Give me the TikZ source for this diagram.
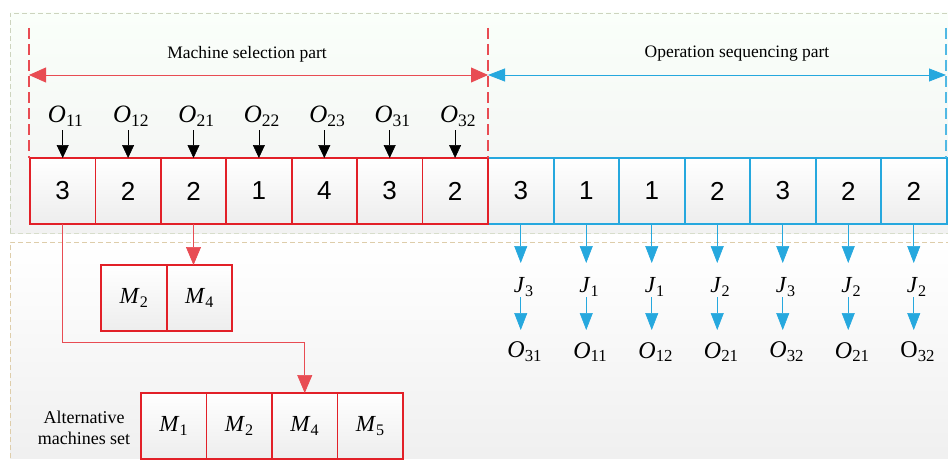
\documentclass[tikz,border=0pt]{standalone}
\usepackage{fontspec}
\setmainfont{Liberation Serif}
\newfontfamily\arialf{Liberation Sans}
\usetikzlibrary{arrows.meta,calc}
\definecolor{myred}{RGB}{226,32,40}
\definecolor{myblue}{RGB}{38,168,222}
\definecolor{pline}{RGB}{205,212,190}
\definecolor{tanline}{RGB}{222,205,170}
\begin{document}
\begin{tikzpicture}[x=1pt,y=-1pt,
  cellbase/.style={minimum width=65.5pt, minimum height=66pt, inner sep=0pt, outer sep=0pt,
     top color=white, bottom color=black!7, font=\arialf\fontsize{26}{26}\selectfont},
  rbox/.style={cellbase},
  bbox/.style={cellbase},
  mbox/.style={cellbase, font=\fontsize{23}{23}\selectfont},
  rframe/.style={draw=myred, line width=1.7pt},
  bframe/.style={draw=myblue, line width=2pt},
  olab/.style={font=\fontsize{25}{25}\selectfont, inner sep=1pt},
  jlab/.style={font=\fontsize{23}{23}\selectfont, inner sep=1pt},
  blab/.style={font=\fontsize{24}{24}\selectfont, inner sep=1pt},
  partlab/.style={font=\fontsize{17.5}{17.5}\selectfont},
  blk/.style={-{Triangle[width=12pt,length=13pt]}, line width=0.6pt, black},
  bluearr/.style={-{Triangle[width=13pt,length=17pt]}, line width=0.6pt, myblue},
  redarr/.style={-{Triangle[width=15pt,length=18pt]}, line width=0.8pt, myred!80},
  reddash/.style={myred!80, line width=1.2pt, dash pattern=on 11pt off 5pt},
  bluedash/.style={myblue!80, line width=1.8pt, dash pattern=on 11pt off 5pt},
]
\useasboundingbox (0,0) rectangle (948,460);
\fill[white] (0,0) rectangle (948,460);
% panels
\shade[top color=white, bottom color=black!6] (10,242) rectangle (958,458);
\draw[tanline, line width=0.8pt, dash pattern=on 5pt off 3pt] (10,458) -- (10,242) -- (958,242);
\shade[top color=white!98!green, bottom color=black!5] (10,13) rectangle (958,233);
\draw[pline, line width=0.8pt, dash pattern=on 5pt off 3pt] (10,233) -- (10,13) -- (958,13);
\draw[pline!80, line width=0.8pt, dash pattern=on 5pt off 3pt] (10,233) -- (958,233);

% boxes
\foreach \v [count=\i] in {3,2,2,1,4,3,2}
  \node[rbox] (r\i) at ({30+65.4*(\i-0.5)},191) {\v};
\foreach \v [count=\i] in {3,1,1,2,3,2,2}
  \node[bbox] (b\i) at ({488+65.5*(\i-0.5)},191) {\v};
\foreach \i in {1,...,7}{
  \draw[rframe] (r\i.north west) rectangle (r\i.south east);
  \draw[bframe] (b\i.north west) rectangle (b\i.south east);
}

% part markers
\coordinate (ml) at (29,28);
\coordinate (mr) at (488,28);
\coordinate (br) at (946,28);
\draw[reddash] (ml) -- (29,158);
\draw[reddash] (mr) -- (488,158);
\draw[bluedash] (br) -- (946,158);
\coordinate (al) at (29,75);
\coordinate (am) at (488,75);
\coordinate (ar) at (946,75);
\draw[redarr, {Triangle[width=15pt,length=17pt]}-{Triangle[width=15pt,length=17pt]}] (al) -- (am);
\draw[bluearr, line width=0.8pt, {Triangle[width=13pt,length=17pt]}-{Triangle[width=13pt,length=17pt]}] (am) -- (ar);
\node[partlab] (msp) at (247,54) {Machine selection part};
\node[partlab] (osp) at (737,54) {Operation sequencing part};

% operation labels
\foreach \s [count=\i] in {11,12,21,22,23,31,32}{
  \node[olab] (o\i) at ($(r\i.north)+(3,-42)$) {\textit{O}\textsubscript{\s}};
  \draw[blk] ($(r\i.north)+(0,-28)$) -- (r\i.north);
}

% sequencing decoding
\foreach \j/\s [count=\i] in {3/31,1/11,1/12,2/21,3/32,2/21}{
  \node[jlab] (j\i) at ($(b\i.south)+(3,63)$) {\textit{J}\textsubscript{\j}};
  \node[blab] (q\i) at ($(b\i.south)+(4,128)$) {\textit{O}\textsubscript{\s}};
}
\node[jlab] (j7) at ($(b7.south)+(3,63)$) {\textit{J}\textsubscript{2}};
\node[blab] (q7) at ($(b7.south)+(4,128)$) {O\textsubscript{32}};
\foreach \i in {1,...,7}{
  \draw[bluearr] (b\i.south) -- ($(b\i.south)+(0,39)$);
  \draw[bluearr] ($(b\i.south)+(0,73)$) -- ($(b\i.south)+(0,106)$);
}

% machine sets
\node[mbox] (m1) at (134,298) {\textit{M}\textsubscript{2}};
\node[mbox] (m2) at (199.5,298) {\textit{M}\textsubscript{4}};
\foreach \s [count=\i] in {1,2,4,5}
  \node[mbox] (a\i) at ({141+65.5*(\i-0.5)},426) {\textit{M}\textsubscript{\s}};
\foreach \n in {m1,m2,a1,a2,a3,a4}
  \draw[rframe] (\n.north west) rectangle (\n.south east);
\node[align=center, font=\fontsize{18}{21}\selectfont] (alt) at (84,428) {Alternative\\machines set};

% red connectors
\draw[redarr, line width=0.7pt] (r3.south) -- (m2.north -| r3.south);
\draw[redarr, line width=0.7pt] (r1.south) -- ++(0,118) -| (a3.north);
\end{tikzpicture}
\end{document}
